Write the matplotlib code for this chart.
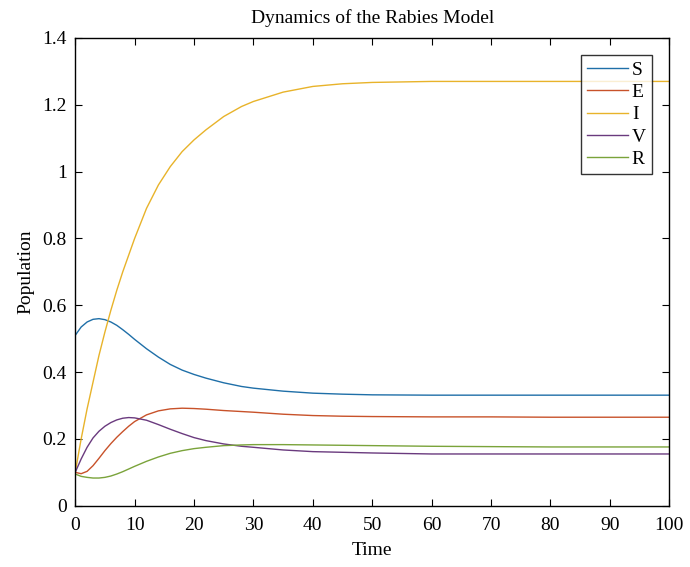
import matplotlib.pyplot as plt

plt.rcParams['font.family'] = ['Liberation Serif', 'DejaVu Serif']

# Time points
t = [0, 1, 2, 3, 4, 5, 6, 7, 8, 9, 10, 12, 14, 16, 18, 20, 22, 25, 28, 30, 35, 40, 45, 50, 60, 70, 80, 90, 100]

# Compartment values
S = [0.51, 0.535, 0.55, 0.558, 0.56, 0.557, 0.55, 0.54, 0.527, 0.513, 0.498, 0.47, 0.445, 0.423, 0.406,
     0.393, 0.382, 0.368, 0.357, 0.352, 0.343, 0.337, 0.334, 0.332, 0.331, 0.331, 0.331, 0.331, 0.331]
E = [0.10, 0.096, 0.103, 0.12, 0.142, 0.165, 0.186, 0.205, 0.222, 0.238, 0.252, 0.272, 0.284, 0.29, 0.292,
     0.291, 0.289, 0.285, 0.282, 0.28, 0.274, 0.27, 0.268, 0.267, 0.266, 0.266, 0.265, 0.265, 0.265]
I = [0.10, 0.20, 0.29, 0.37, 0.45, 0.52, 0.585, 0.645, 0.70, 0.75, 0.80, 0.89, 0.96, 1.015, 1.06,
     1.095, 1.125, 1.165, 1.195, 1.21, 1.238, 1.255, 1.263, 1.267, 1.27, 1.27, 1.27, 1.27, 1.27]
V = [0.10, 0.14, 0.175, 0.203, 0.223, 0.238, 0.249, 0.257, 0.262, 0.264, 0.263, 0.256, 0.243, 0.229, 0.216,
     0.204, 0.195, 0.185, 0.178, 0.175, 0.167, 0.162, 0.16, 0.158, 0.155, 0.155, 0.155, 0.155, 0.155]
R = [0.095, 0.088, 0.085, 0.083, 0.083, 0.085, 0.089, 0.095, 0.102, 0.11, 0.118, 0.133, 0.146, 0.157, 0.165,
     0.171, 0.175, 0.18, 0.182, 0.183, 0.183, 0.182, 0.181, 0.18, 0.178, 0.177, 0.176, 0.176, 0.176]

names = ['S', 'E', 'I', 'V', 'R']
colors = ['#1f6fa8', '#c8522a', '#e8b32a', '#6a3a7e', '#7aa33a']

fig = plt.figure(figsize=(6.9, 5.67), dpi=100)
ax = fig.add_axes([0.109, 0.108, 0.861, 0.825])

for y, name, c in zip([S, E, I, V, R], names, colors):
    ax.plot(t, y, color=c, linewidth=1.0, label=name)

ax.set_xlim(0, 100)
ax.set_ylim(0, 1.4)
ax.set_xticks(range(0, 101, 10))
ax.set_yticks([0, 0.2, 0.4, 0.6, 0.8, 1.0, 1.2, 1.4])
ax.set_yticklabels(['0', '0.2', '0.4', '0.6', '0.8', '1', '1.2', '1.4'])
ax.tick_params(direction='in', top=True, right=True, labelsize=14, length=5)
ax.tick_params(axis='x', pad=8)
ax.tick_params(axis='y', pad=6)
for sp in ax.spines.values():
    sp.set_linewidth(1.0)

ax.set_xlabel('Time', fontsize=14, labelpad=6)
ax.set_ylabel('Population', fontsize=14, labelpad=6)
ax.set_title('Dynamics of the Rabies Model', fontsize=14, pad=11)

leg = ax.legend(loc='upper right', fontsize=14, frameon=True, fancybox=False,
                edgecolor='black', handlelength=2.1, handletextpad=0.2,
                labelspacing=0.24, borderpad=0.3, borderaxespad=0.9)
leg.get_frame().set_linewidth(1.0)

fig.savefig('out.png', dpi=100)
